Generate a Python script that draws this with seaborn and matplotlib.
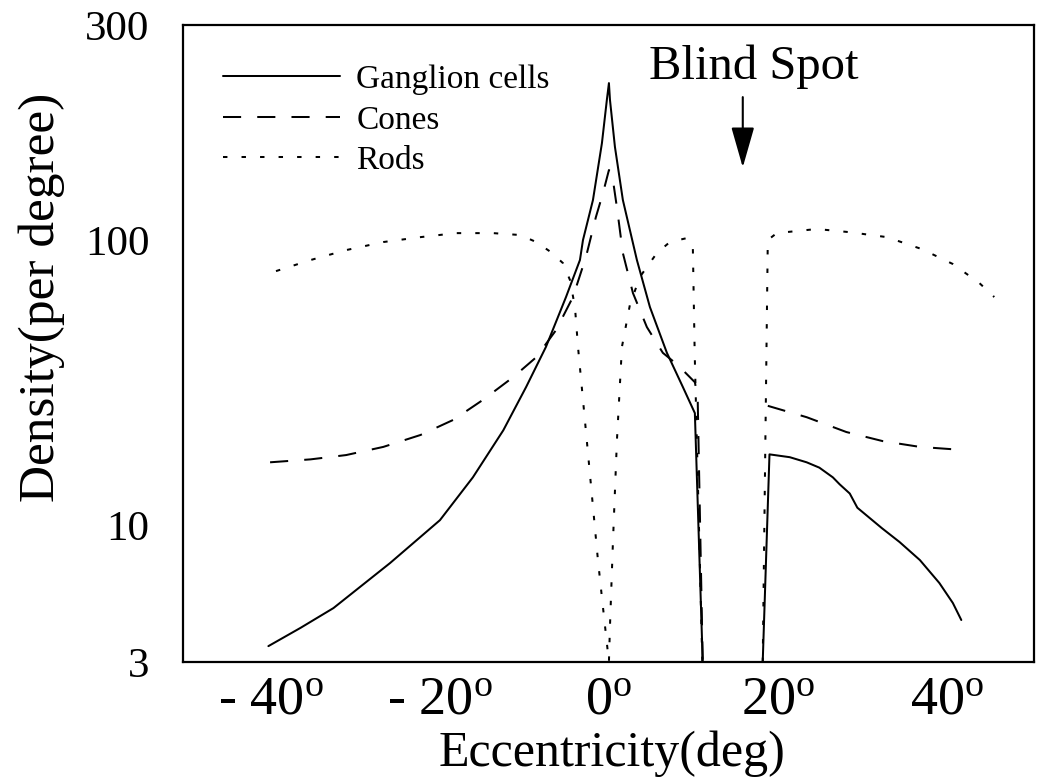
import numpy as np
import pandas as pd
import matplotlib
matplotlib.use("Agg")
import matplotlib.pyplot as plt
import seaborn as sns

# ---------------- data ----------------
types = ["Ganglion cells", "Cones", "Rods"]

gang_left_x = [-40.3, -36.5, -32.6, -25.9, -20.0, -16.1, -12.5, -9.8, -7.45, -5.08, -3.43, -3.07,
               -1.89, -0.83, -0.24, 0.0, 0.12, 0.71, 1.65, 3.31, 4.85, 6.86, 8.75, 10.17, 11.1]
gang_left_y = [3.45, 4.05, 4.82, 7.16, 10.4, 14.7, 21.5, 30.5, 42.2, 63.1, 85.1, 100,
               122.7, 164, 205, 223, 205, 161, 122.7, 85.1, 58.2, 40.2, 30.5, 24.7, 3.0]
gang_right_x = [18.2, 19.0, 21.4, 23.4, 24.9, 26.5, 27.3, 28.5, 29.4, 32.3, 34.4, 36.8,
                39.1, 40.7, 41.7]
gang_right_y = [3.0, 17.7, 17.3, 16.6, 15.9, 14.7, 13.9, 12.9, 11.5, 9.73, 8.61, 7.35,
                6.01, 5.04, 4.34]

cone_left_x = [-40.1, -35.3, -31.1, -26.7, -22.3, -18.4, -14.9, -11.35, -8.6, -6.26, -4.26,
               -2.72, -1.54, -0.71, 0.0, 0.35, 0.95, 1.65, 2.84, 4.49, 6.38, 8.16, 10.17,
               10.5, 11.1]
cone_left_y = [16.6, 17.0, 17.6, 18.8, 20.7, 23.4, 27.5, 33.0, 38.8, 48.3, 63.1,
               87.2, 112.5, 127, 143, 141, 118, 90, 65.2, 49.5, 40.2, 36.4, 31.7,
               28.1, 3.0]
cone_right_x = [18.8, 23.4, 28.1, 32.4, 36.8, 42.3]
cone_right_y = [26.2, 23.9, 21.2, 19.7, 18.8, 18.3]

rod_left_x = [-39.4, -35.3, -31.1, -26.7, -22.3, -18.1, -13.7, -10.5, -8.6, -6.86, -5.44,
              -4.61, -4.02, -3.66, -3.07, -2.48, -1.89, -1.30, -0.71, 0.0, 0.12, 0.47,
              0.95, 1.54, 2.48, 3.66, 5.67, 7.21, 9.22, 9.93, 10.15, 11.05]
rod_left_y = [77.8, 85.1, 92.2, 98.4, 101.5, 103.6, 103.6, 102.6, 98.4, 90.7, 83.0,
              72.4, 58.2, 42.2, 27.5, 17.9, 11.6, 7.35, 4.87, 3.0, 4.08, 8.53,
              19.9, 42.2, 59.2, 74.2, 90, 98.4, 101, 94.5, 40, 3.0]
rod_right_x = [18.2, 18.8, 19.86, 22.2, 24.6, 28.5, 32.9, 37.0, 40.7, 43.85, 45.6]
rod_right_y = [3.0, 100, 103.6, 104.7, 105.8, 104.1, 101.5, 93.0, 82.4, 70.6, 63.1]

xtick_vals = [-40, -20, 0, 20, 40]
xtick_labels = [r"- 40$^{\rm o}$", r"- 20$^{\rm o}$", r"0$^{\rm o}$", r"20$^{\rm o}$", r"40$^{\rm o}$"]
ytick_vals = [3, 10, 100, 300]
ytick_labels = ["3", "10", "100", "300"]
# vertical position (fraction of axis height) of each labelled density in the reference
ytick_frac = [0.0, 137 / 637, 422 / 637, 1.0]

blind_x, blind_top, blind_tip = 15.84, 207.6, 145.0

# ---------------- build table ----------------
segs = [
    ("Ganglion cells", "g1", gang_left_x, gang_left_y),
    ("Ganglion cells", "g2", gang_right_x, gang_right_y),
    ("Cones", "c1", cone_left_x, cone_left_y),
    ("Cones", "c2", cone_right_x, cone_right_y),
    ("Rods", "r1", rod_left_x, rod_left_y),
    ("Rods", "r2", rod_right_x, rod_right_y),
]
rows = []
for t, s, xs, ys in segs:
    for i, (xv, yv) in enumerate(zip(xs, ys)):
        rows.append({"type": t, "segment": s, "order": i, "x": xv, "density": yv})
df = pd.DataFrame(rows)

# ---------------- custom y scale matching the reference's axis ----------------
LOGK = np.log10(np.array(ytick_vals, float))
POS = np.array(ytick_frac) * 637.0
S0 = (POS[1] - POS[0]) / (LOGK[1] - LOGK[0])
S1 = (POS[-1] - POS[-2]) / (LOGK[-1] - LOGK[-2])


def fwd(v):
    v = np.asarray(v, float)
    shp = v.shape
    v = np.atleast_1d(v)
    lv = np.log10(np.clip(v, 1e-30, None))
    out = np.interp(lv, LOGK, POS)
    lo = lv < LOGK[0]
    hi = lv > LOGK[-1]
    out[lo] = POS[0] + (lv[lo] - LOGK[0]) * S0
    out[hi] = POS[-1] + (lv[hi] - LOGK[-1]) * S1
    return out.reshape(shp)


def inv(u):
    u = np.asarray(u, float)
    shp = u.shape
    u = np.atleast_1d(u)
    lv = np.interp(u, POS, LOGK)
    lo = u < POS[0]
    hi = u > POS[-1]
    lv[lo] = LOGK[0] + (u[lo] - POS[0]) / S0
    lv[hi] = LOGK[-1] + (u[hi] - POS[-1]) / S1
    return (10.0 ** lv).reshape(shp)


# ---------------- plot ----------------
sns.set_theme(style="white")
plt.rcParams["font.family"] = ["Liberation Serif", "DejaVu Serif"]
plt.rcParams["mathtext.fontset"] = "custom"
plt.rcParams["mathtext.rm"] = "Liberation Serif"
plt.rcParams["mathtext.it"] = "Liberation Serif:italic"
plt.rcParams["mathtext.bf"] = "Liberation Serif:bold"
for k in ["text.color", "axes.labelcolor", "xtick.color", "ytick.color", "axes.edgecolor"]:
    plt.rcParams[k] = "black"

fig, ax = plt.subplots(figsize=(10.4, 7.83), dpi=100)
fig.subplots_adjust(left=0.176, right=0.9942, top=0.968, bottom=0.1545)

sns.lineplot(
    data=df, x="x", y="density", hue="type", style="type", units="segment",
    estimator=None, sort=False, hue_order=types, style_order=types,
    palette={t: "black" for t in types},
    dashes={"Ganglion cells": "", "Cones": (9, 8), "Rods": (2.2, 7)},
    linewidth=1.45, ax=ax,
)

ax.set_yscale("function", functions=(fwd, inv))
ax.set_xlim(-50.4, 50.3)
ax.set_ylim(3, 300)
ax.set_yticks(ytick_vals, labels=ytick_labels)
ax.yaxis.set_minor_locator(matplotlib.ticker.NullLocator())
ax.set_xticks(xtick_vals, labels=xtick_labels)

ax.tick_params(axis="both", length=0)
ax.tick_params(axis="y", labelsize=31, pad=24)
ax.tick_params(axis="x", labelsize=39, pad=9)

for sp in ax.spines.values():
    sp.set_visible(True)
    sp.set_color("black")
    sp.set_linewidth(1.6)

ax.set_xlabel("Eccentricity(deg)", fontsize=36)
ax.set_ylabel("Density(per degree)", fontsize=37)
ax.xaxis.set_label_coords(0.504, -0.108)
ax.yaxis.set_label_coords(-0.139, 0.573)

# legend
handles, labels = ax.get_legend_handles_labels()
hl = [(h, l) for h, l in zip(handles, labels) if l in types]
ax.legend([h for h, _ in hl], [l for _, l in hl], loc="upper left",
          bbox_to_anchor=(0.047, 0.938), borderaxespad=0, borderpad=0,
          frameon=False, handlelength=3.5, handletextpad=0.5, labelspacing=0.3,
          prop={"family": "Liberation Serif", "size": 24})

# blind spot annotation
ax.text(17.1, 227.5, "Blind Spot", ha="center", va="baseline", fontsize=35)
ax.annotate("", xy=(blind_x, blind_tip), xytext=(blind_x, blind_top),
            arrowprops=dict(arrowstyle="-|>,head_length=1.26,head_width=0.36",
                            mutation_scale=20, lw=1.5, color="black",
                            shrinkA=0, shrinkB=0))

fig.savefig("out.png", dpi=100)
